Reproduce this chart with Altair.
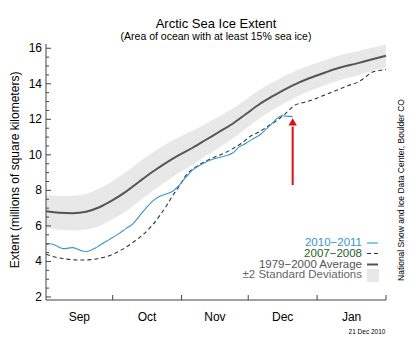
import altair as alt
import pandas as pd

# ---------------- data (days since 1 Sep; values in million km^2) ----------------
avg_days = [0, 6, 12, 18, 24, 30, 36, 42, 48, 54, 60, 66, 72, 78, 84, 90, 96, 102,
            108, 114, 120, 126, 132, 140, 146, 153]
avg_vals = [6.82, 6.74, 6.72, 6.8, 7.05, 7.45, 7.93, 8.5, 9.05, 9.55, 10.0, 10.4,
            10.85, 11.3, 11.75, 12.3, 12.85, 13.3, 13.72, 14.08, 14.38, 14.65,
            14.9, 15.15, 15.35, 15.58]
sd_vals = [0.92, 0.95, 0.98, 1.0, 1.05, 1.08, 1.1, 1.1, 1.08, 1.05, 1.0, 0.95,
           0.9, 0.88, 0.85, 0.82, 0.8, 0.78, 0.76, 0.74, 0.72, 0.7, 0.7, 0.68,
           0.66, 0.65]

y2010_days = [0, 2, 4, 6, 8, 10, 12, 14, 16, 18, 20, 22, 24, 26, 28, 30, 33, 36,
              39, 42, 45, 48, 51, 54, 57, 60, 63, 66, 69, 72, 75, 78, 81, 84, 87,
              90, 93, 96, 99, 102, 104, 106, 108, 111]
y2010_vals = [4.95, 5.0, 4.92, 4.8, 4.72, 4.75, 4.78, 4.7, 4.6, 4.56, 4.62, 4.74,
              4.9, 5.05, 5.2, 5.35, 5.58, 5.85, 6.1, 6.55, 7.0, 7.4, 7.65, 7.8,
              7.95, 8.3, 8.75, 9.15, 9.4, 9.6, 9.75, 9.85, 9.95, 10.1, 10.45,
              10.65, 10.9, 11.1, 11.45, 11.8, 12.05, 12.2, 12.18, 12.15]

y2007_days = [0, 4, 8, 12, 16, 20, 24, 28, 32, 36, 40, 44, 48, 51, 54, 57, 60, 63,
              66, 69, 72, 76, 80, 84, 88, 92, 96, 100, 104, 108, 112, 116, 120,
              124, 128, 132, 136, 140, 143, 146, 150, 153]
y2007_vals = [4.4, 4.25, 4.15, 4.1, 4.08, 4.1, 4.18, 4.3, 4.52, 4.8, 5.15, 5.55,
              6.06, 6.55, 7.09, 7.7, 8.25, 8.85, 9.2, 9.45, 9.65, 9.88, 10.08,
              10.35, 10.65, 11.05, 11.3, 11.62, 11.95, 12.35, 12.8, 12.95, 13.1,
              13.3, 13.5, 13.7, 13.9, 14.08, 14.3, 14.6, 14.75, 14.8]

month_names = ["Sep", "Oct", "Nov", "Dec", "Jan"]
month_starts = [0, 30, 61, 91, 122, 153]
y_major = [2, 4, 6, 8, 10, 12, 14, 16]
y_minor = [2.5, 3, 3.5, 4.5, 5, 5.5, 6.5, 7, 7.5, 8.5, 9, 9.5, 10.5, 11, 11.5,
           12.5, 13, 13.5, 14.5, 15, 15.5]

arrow_day = [111]
arrow_from = [8.3]
arrow_to = [11.6]
arrow_head = [11.85]

legend_labels = ["2010\u22122011", "2007\u22122008", "1979\u22122000 Average",
                 "\u00b12 Standard Deviations"]
credit = "National Snow and Ice Data Center, Boulder CO"
date_stamp = "21 Dec 2010"

# ---------------- style ----------------
W, H = 340, 256
FONT = "Liberation Sans"
BLUE = "#3797c9"
GREEN = "#1f5f1f"
AVG = "#555555"
BAND = "#e8e8e8"
DASH = "#333333"
RED = "#d21414"
AXC = "#444444"

x_scale = alt.Scale(domain=[0, 153], nice=False, zero=False)
y_scale = alt.Scale(domain=[1.83, 16.24], nice=False, zero=False)

month_mid = [(a + b) / 2 for a, b in zip(month_starts[:-1], month_starts[1:])]

band_df = pd.DataFrame({"day": avg_days,
                        "lo": [a - s for a, s in zip(avg_vals, sd_vals)],
                        "hi": [a + s for a, s in zip(avg_vals, sd_vals)]})
avg_df = pd.DataFrame({"day": avg_days, "v": avg_vals})
d2010 = pd.DataFrame({"day": y2010_days, "v": y2010_vals})
d2007 = pd.DataFrame({"day": y2007_days, "v": y2007_vals})


def X(f):
    return alt.X(f, scale=x_scale, axis=None)


def Y(f):
    return alt.Y(f, scale=y_scale, axis=None)


band = alt.Chart(band_df).mark_area(color=BAND, interpolate="monotone").encode(
    x=X("day:Q"), y=Y("lo:Q"), y2="hi:Q")

avg_line = alt.Chart(avg_df).mark_line(color=AVG, strokeWidth=2,
                                       interpolate="monotone").encode(
    x=X("day:Q"), y=Y("v:Q"))

line2007 = alt.Chart(d2007).mark_line(color=DASH, strokeWidth=1.1,
                                      strokeDash=[4, 3],
                                      interpolate="monotone").encode(
    x=X("day:Q"), y=Y("v:Q"))

line2010 = alt.Chart(d2010).mark_line(color=BLUE, strokeWidth=1.1,
                                      interpolate="monotone").encode(
    x=X("day:Q"), y=Y("v:Q"))

# axes (lines, inward ticks, labels)
one = pd.DataFrame({"k": [0]})
left_dom = alt.Chart(one).mark_rule(color=AXC).encode(
    x=alt.value(0), y=alt.value(0), y2=alt.value(H))
bot_dom = alt.Chart(one).mark_rule(color=AXC).encode(
    x=alt.value(0), x2=alt.value(W), y=alt.value(H))
ymaj = alt.Chart(pd.DataFrame({"v": y_major})).mark_rule(color=AXC).encode(
    y=Y("v:Q"), x=alt.value(0), x2=alt.value(5))
ymin = alt.Chart(pd.DataFrame({"v": y_minor})).mark_rule(color=AXC).encode(
    y=Y("v:Q"), x=alt.value(0), x2=alt.value(3))
xt = alt.Chart(pd.DataFrame({"d": month_starts[1:]})).mark_rule(color=AXC).encode(
    x=X("d:Q"), y=alt.value(H), y2=alt.value(H - 5))
ylab = alt.Chart(pd.DataFrame({"v": y_major})).mark_text(
    align="right", baseline="middle", font=FONT, fontSize=12, color="black").encode(
    y=Y("v:Q"), x=alt.value(-4), text=alt.Text("v:Q", format="d"))
xlab = alt.Chart(pd.DataFrame({"d": month_mid, "m": month_names})).mark_text(
    align="center", baseline="middle", font=FONT, fontSize=12, color="black").encode(
    x=X("d:Q"), y=alt.value(H + 17), text="m:N")

# red arrow
arr_df = pd.DataFrame({"d": arrow_day, "a": arrow_from, "b": arrow_to,
                       "h": arrow_head})
arrow_shaft = alt.Chart(arr_df).mark_rule(color=RED, strokeWidth=2).encode(
    x=X("d:Q"), y=Y("a:Q"), y2="b:Q")
arrow_tip = alt.Chart(arr_df).mark_point(shape="triangle-up", filled=True,
                                         color=RED, opacity=1, size=70).encode(
    x=X("d:Q"), y=Y("h:Q"))

# legend
leg_x = 316
leg_y = [199, 209.5, 220.5, 231]
leg_colors = [BLUE, GREEN, AVG, "#666666"]
legend_layers = []
for lab, yy, col in zip(legend_labels, leg_y, leg_colors):
    legend_layers.append(
        alt.Chart(pd.DataFrame({"t": [lab]})).mark_text(
            align="right", baseline="middle", font=FONT, fontSize=11.5,
            color=col).encode(text="t:N", x=alt.value(leg_x), y=alt.value(yy)))
legend_layers += [
    alt.Chart(one).mark_rule(color=BLUE, strokeWidth=1.1).encode(
        x=alt.value(321), x2=alt.value(332), y=alt.value(leg_y[0])),
    alt.Chart(one).mark_rule(color=DASH, strokeWidth=1.1, strokeDash=[4, 3]).encode(
        x=alt.value(321), x2=alt.value(332), y=alt.value(leg_y[1])),
    alt.Chart(one).mark_rule(color=AVG, strokeWidth=2).encode(
        x=alt.value(321), x2=alt.value(332), y=alt.value(leg_y[2])),
    alt.Chart(one).mark_rect(color=BAND).encode(
        x=alt.value(321), x2=alt.value(333), y=alt.value(leg_y[3] - 6),
        y2=alt.value(leg_y[3] + 7)),
]

ytitle = alt.Chart(pd.DataFrame({"t": ["Extent (millions of square kilometers)"]})).mark_text(
    angle=270, font=FONT, fontSize=12, color="black", baseline="middle").encode(
    text="t:N", x=alt.value(-31), y=alt.value(126))
credit_txt = alt.Chart(pd.DataFrame({"t": [credit]})).mark_text(
    angle=270, font=FONT, fontSize=8.5, color="black", baseline="middle").encode(
    text="t:N", x=alt.value(355), y=alt.value(146))
date_txt = alt.Chart(pd.DataFrame({"t": [date_stamp]})).mark_text(
    font=FONT, fontSize=6.5, color="black", baseline="middle").encode(
    text="t:N", x=alt.value(321), y=alt.value(288))

chart = alt.layer(band, avg_line, line2007, line2010, left_dom, bot_dom, ymaj,
                  ymin, xt, ylab, xlab, arrow_shaft, arrow_tip, *legend_layers,
                  ytitle, credit_txt, date_txt).properties(
    width=W, height=H,
    title=alt.TitleParams(text="Arctic Sea Ice Extent",
                          subtitle="(Area of ocean with at least 15% sea ice)",
                          font=FONT, subtitleFont=FONT, fontSize=13,
                          subtitleFontSize=10.5, fontWeight="normal",
                          color="black", subtitleColor="black",
                          anchor="middle", offset=0, subtitlePadding=1),
    padding={"left": 46, "top": 44, "right": 34, "bottom": 50},
    autosize=alt.AutoSizeParams(type="none"),
    background="white",
).configure_view(stroke=None)

chart.save("out.html", embed_options={"renderer": "svg", "actions": False})
